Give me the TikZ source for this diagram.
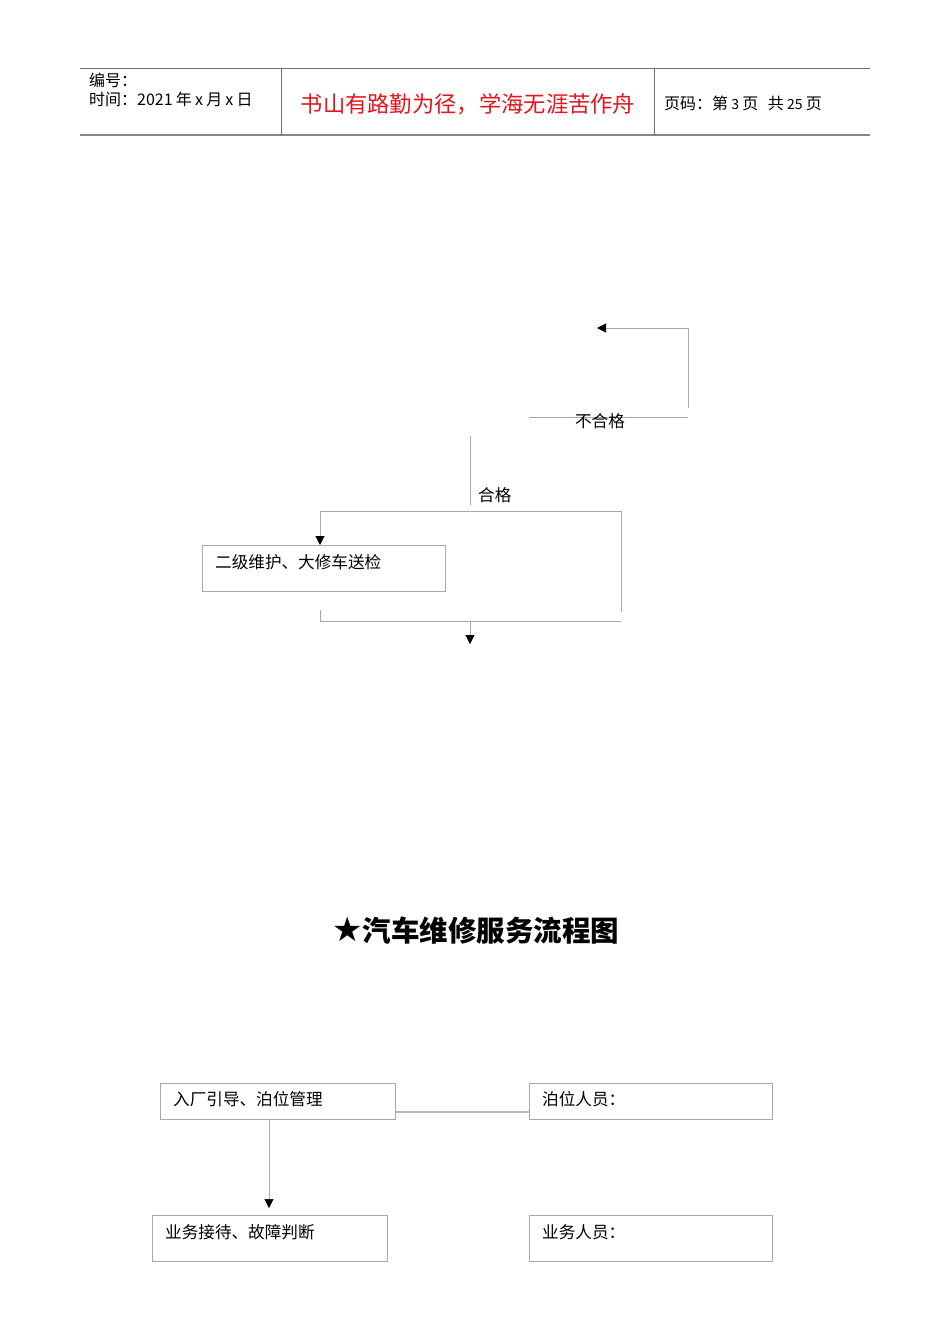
\documentclass[tikz,border=0pt]{standalone}
\usepackage{fontspec}
\setmainfont{Noto Sans CJK SC}
\newfontfamily\cjk{Noto Sans CJK SC}
\newfontfamily\sym{DejaVu Sans}
\usetikzlibrary{arrows.meta}
\definecolor{ln}{HTML}{A8A8A8}
\definecolor{hdline}{HTML}{707070}
\definecolor{hdred}{HTML}{E8141C}
\newcommand{\gp}{\hspace{0.2em}}
\begin{document}
\begin{tikzpicture}[x=1pt,y=-1pt,
  conn/.style={draw=ln,line width=1pt},
  arr/.style={conn,-{Triangle[width=9pt,length=9pt,color=black]}},
  box/.style={draw=ln,line width=0.9pt,rectangle,inner sep=0pt,anchor=north west},
  btext/.style={font=\cjk\fontsize{16.6pt}{18pt}\selectfont,anchor=west,inner sep=0pt},
  lbl/.style={font=\cjk\fontsize{16.6pt}{18pt}\selectfont,inner sep=0pt},
  hd/.style={font=\cjk\fontsize{16pt}{18pt}\selectfont,anchor=west,inner sep=0pt}]
\useasboundingbox (0,0) rectangle (950,1344);
\fill[white] (0,0) rectangle (950,1344);
% header
\coordinate (hTL) at (80,68); \coordinate (hTR) at (870,68);
\coordinate (hBL) at (80,135); \coordinate (hBR) at (870,135);
\coordinate (s1t) at (281,68); \coordinate (s1b) at (281,135);
\coordinate (s2t) at (654,68); \coordinate (s2b) at (654,135);
\draw[hdline,line width=1pt] (hTL) -- (hTR);
\draw[ln!80!black,line width=2pt] (hBL) -- (hBR);
\draw[hdline,line width=1pt] (s1t) -- (s1b);
\draw[hdline,line width=1pt] (s2t) -- (s2b);
\node[hd] (hnum) at (89,80) {编号：};
\node[hd] (htime) at (89,99) {时间：2021\gp 年\gp x\gp 月\gp x\gp 日};
\node[font=\cjk\fontsize{22.3pt}{24pt}\selectfont,text=hdred,inner sep=0pt] (hmotto) at (468,104) {书山有路勤为径，学海无涯苦作舟};
\node[hd] (hpage) at (664,103) {页码：第\gp{\fontsize{14pt}{16pt}\selectfont 3}\gp 页\hspace{0.6em}共\gp{\fontsize{14pt}{16pt}\selectfont 25}\gp 页};
% upper flow fragment
\coordinate (r1) at (688,408);
\coordinate (r2) at (688,328);
\coordinate (r3) at (597,328);
\draw[arr] (r1) -- (r2) -- (r3);
\coordinate (bl1) at (529,417);
\coordinate (bl2) at (688,417);
\draw[conn] (bl1) -- (bl2);
\node[lbl] (bhg) at (600,421) {不合格};
\coordinate (q1) at (470,436);
\coordinate (q2) at (470,505);
\draw[conn] (q1) -- (q2);
\node[lbl,anchor=west] (hg) at (478,495) {合格};
\node[box,minimum width=243pt,minimum height=46pt] (b0) at (202,545) {};
\node[btext] (b0t) at (215,562) {二级维护、大修车送检};
\coordinate (t1) at (621,612);
\coordinate (t2) at (621,511);
\coordinate (t3) at (320,511);
\draw[arr] (t1) -- (t2) -- (t3) -- (b0.north -| t3);
\coordinate (u1) at (320,610);
\coordinate (u2) at (320,621);
\coordinate (u3) at (621,621);
\draw[conn] (u1) -- (u2) -- (u3);
\coordinate (v1) at (470,621);
\coordinate (v2) at (470,644);
\draw[arr] (v1) -- (v2);
% title
\node[font=\cjk\bfseries\fontsize{28.5pt}{30pt}\selectfont,inner sep=0pt] (title) at (476,931) {{\sym\fontsize{34pt}{36pt}\selectfont ★}汽车维修服务流程图};
% lower flow
\node[box,minimum width=235pt,minimum height=36pt] (c1) at (160,1083) {};
\node[btext] (c1t) at (173,1099) {入厂引导、泊位管理};
\node[box,minimum width=243pt,minimum height=36pt] (c2) at (529,1083) {};
\node[btext] (c2t) at (542,1099) {泊位人员：};
\draw[ln!80,line width=1.5pt] (c1.east |- 0,1112) -- (c2.west |- 0,1112);
\node[box,minimum width=235pt,minimum height=46pt] (c3) at (152,1215) {};
\node[btext] (c3t) at (165,1232) {业务接待、故障判断};
\node[box,minimum width=243pt,minimum height=46pt] (c4) at (529,1215) {};
\node[btext] (c4t) at (542,1232) {业务人员：};
\coordinate (w1) at (269,1119);
\coordinate (w2) at (269,1208);
\draw[arr,line width=0.7pt] (w1) -- (w2);
\end{tikzpicture}
\end{document}
